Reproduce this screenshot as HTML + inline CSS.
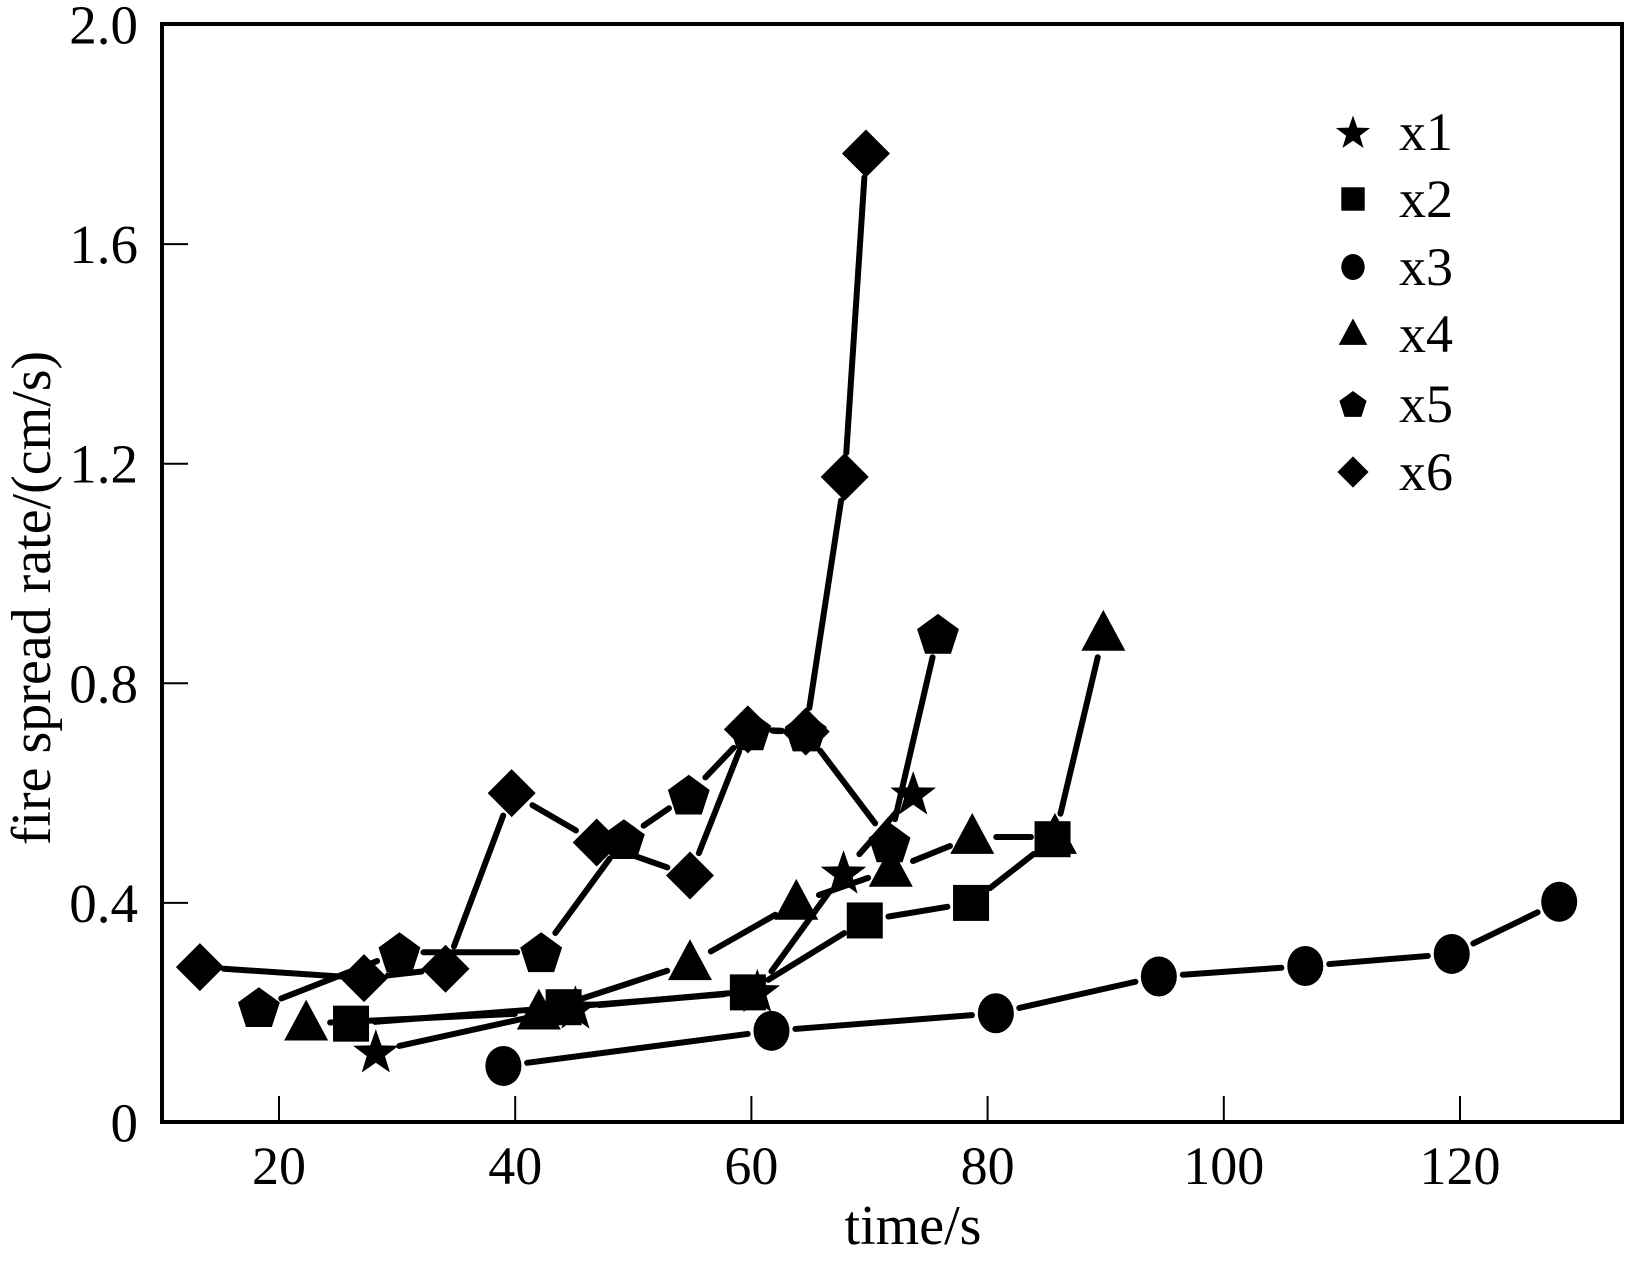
<!DOCTYPE html>
<html><head><meta charset="utf-8"><style>
html,body{margin:0;padding:0;background:#fff;}
svg{display:block;font-family:"Liberation Serif",serif;}
</style></head><body>
<svg id="chart" width="1638" height="1262" viewBox="0 0 1638 1262" xmlns="http://www.w3.org/2000/svg">
<rect width="1638" height="1262" fill="#fff"/>
<g id="plot"></g>
</svg>
<script>
const xTicks=[20,40,60,80,100,120];
const yTicks=[0,0.4,0.8,1.2,1.6,2.0];
const yTickLabels=["0","0.4","0.8","1.2","1.6","2.0"];
const seriesNames=["x1","x2","x3","x4","x5","x6"];
const x1T=[28.2,45.1,60.5,67.8,73.7];
const x1V=[0.13,0.21,0.24,0.456,0.60];
const x2T=[26.1,44.1,59.7,69.6,78.6,85.5];
const x2V=[0.18,0.21,0.237,0.368,0.40,0.516];
const x3T=[39,61.7,80.7,94.5,106.9,119.3,128.4];
const x3V=[0.103,0.167,0.199,0.266,0.285,0.307,0.402];
const x4T=[22.3,42,54.8,63.8,71.8,78.7,85.7,89.8];
const x4V=[0.18,0.20,0.29,0.40,0.46,0.52,0.52,0.89];
const x5T=[18.3,30.2,42.2,49.2,54.7,59.9,64.6,71.7,75.8];
const x5V=[0.21,0.31,0.31,0.516,0.597,0.714,0.712,0.51,0.89];
const x6T=[13.3,27.2,34.1,39.7,46.9,54.8,59.7,64.6,67.9,69.7];
const x6V=[0.283,0.263,0.28,0.60,0.51,0.45,0.716,0.712,1.176,1.765];

const NS="http://www.w3.org/2000/svg";
const L=162,R=1622,T=24,B=1122;
function xs(t){return 279+(t-20)*11.81;}
function ys(v){return 1122.5-v*549;}
const g=document.getElementById('plot');
function mk(tag,attrs,parent){const e=document.createElementNS(NS,tag);for(const k in attrs)e.setAttribute(k,attrs[k]);(parent||g).appendChild(e);return e;}

const frame=mk('rect',{x:L,y:T,width:R-L,height:B-T,fill:'none',stroke:'#000','stroke-width':4});



xTicks.forEach((t,i)=>{
  const tk=mk('line',{x1:xs(t),x2:xs(t),y1:B,y2:B-26,stroke:'#000','stroke-width':2});
  
  
  const tx=mk('text',{x:xs(t),y:1184,'font-size':54,'text-anchor':'middle'});
  
  
  tx.textContent=String(t);
});
yTicks.forEach((v,i)=>{
  if(i>0&&i<yTicks.length-1){
    const tk=mk('line',{x1:L,x2:L+26,y1:ys(v),y2:ys(v),stroke:'#000','stroke-width':2});
    
    
  }
  const tx=mk('text',{x:138,y:ys(v)+19,'font-size':55,'text-anchor':'end'});
  
  
  tx.textContent=yTickLabels[i];
});
const xt=mk('text',{x:913,y:1244,'font-size':56,'text-anchor':'middle'});


xt.textContent='time/s';
const yt=mk('text',{x:0,y:0,'font-size':56,'text-anchor':'middle',transform:'translate(50,598) rotate(-90)'});


yt.textContent='fire spread rate/(cm/s)';

function marker(type,cx,cy,s,parent){
  let e;
  if(type==='square'){e=mk('rect',{x:cx-s*0.45,y:cy-s*0.45,width:s*0.9,height:s*0.9},parent);}
  else if(type==='circle'){e=mk('ellipse',{cx:cx,cy:cy,rx:s*0.45,ry:s*0.5},parent);}
  else{
    let pts=[];
    if(type==='diamond'){pts=[[0,-0.6],[0.6,0],[0,0.6],[-0.6,0]];}
    else if(type==='triangle'){pts=[[0,-0.6],[0.55,0.42],[-0.55,0.42]];}
    else if(type==='pentagon'){for(let k=0;k<5;k++){const a=-Math.PI/2+k*2*Math.PI/5;pts.push([0.55*Math.cos(a),0.55*Math.sin(a)+0.05]);}}
    else if(type==='star'){for(let k=0;k<10;k++){const a=-Math.PI/2+k*Math.PI/5;const r=k%2?0.24:0.6;pts.push([r*Math.cos(a),r*Math.sin(a)+0.05]);}}
    e=mk('polygon',{points:pts.map(p=>(cx+p[0]*s)+','+(cy+p[1]*s)).join(' ')},parent);
  }
  e.setAttribute('fill','#000');
  return e;
}
const types=['star','square','circle','triangle','pentagon','diamond'];
const allT=[x1T,x2T,x3T,x4T,x5T,x6T], allV=[x1V,x2V,x3V,x4V,x5V,x6V];
allT.forEach((ts,si)=>{
  const sg=mk('g',{});
  
  
  const vs=allV[si];
  for(let i=0;i<ts.length-1;i++){
    const ax=xs(ts[i]),ay=ys(vs[i]),bx=xs(ts[i+1]),by=ys(vs[i+1]);
    const d=Math.hypot(bx-ax,by-ay),gap=24;
    if(d<=2*gap)continue;
    const ux=(bx-ax)/d,uy=(by-ay)/d;
    const ln=mk('line',{x1:ax+ux*gap,y1:ay+uy*gap,x2:bx-ux*gap,y2:by-uy*gap,stroke:'#000','stroke-width':6,'stroke-linecap':'round'},sg);
    
    
  }
  ts.forEach((t,i)=>{
    const m=marker(types[si],xs(t),ys(vs[i]),40,sg);
    
    
  });
});
const lg=mk('g',{});


const legY=[132,199,267,334,404,472];
seriesNames.forEach((n,i)=>{
  const m=marker(types[i],1353,legY[i],i===0?30:26,lg);
  
  
  const tx=mk('text',{x:1399,y:legY[i]+18,'font-size':54},lg);
  
  
  tx.textContent=n;
});
</script>
</body></html>
